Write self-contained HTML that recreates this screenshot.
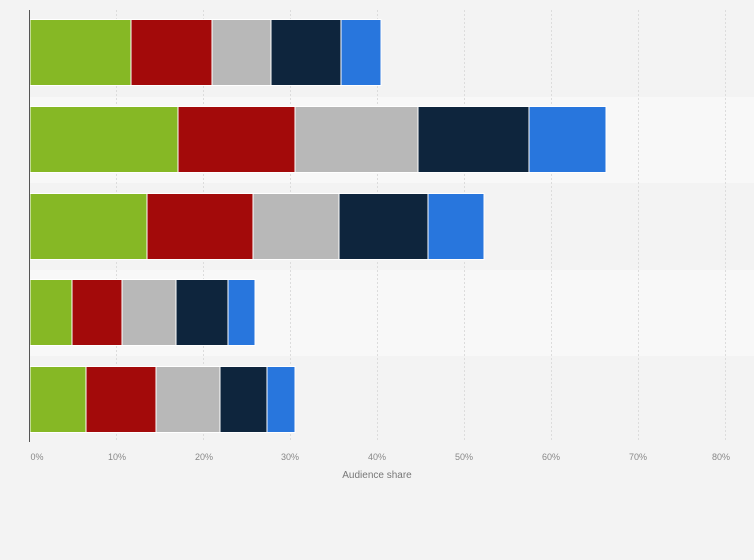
<!DOCTYPE html>
<html><head><meta charset="utf-8"><style>
html,body{margin:0;padding:0;background:#f4f4f4;}
svg{display:block;font-family:"Liberation Sans",sans-serif;}
</style></head><body>
<svg width="754" height="560" viewBox="0 0 754 560">
<rect width="754" height="560" fill="#f3f3f3"/>
<rect x="30" y="97" width="724" height="86" fill="#f8f8f8"/>
<rect x="30" y="270" width="724" height="86" fill="#f8f8f8"/>
<g stroke="#dcdcdc" stroke-dasharray="2,2" stroke-width="1">
<line x1="116.5" y1="10" x2="116.5" y2="442"/>
<line x1="203.5" y1="10" x2="203.5" y2="442"/>
<line x1="290.5" y1="10" x2="290.5" y2="442"/>
<line x1="377.5" y1="10" x2="377.5" y2="442"/>
<line x1="464.5" y1="10" x2="464.5" y2="442"/>
<line x1="551.5" y1="10" x2="551.5" y2="442"/>
<line x1="638.5" y1="10" x2="638.5" y2="442"/>
<line x1="725.5" y1="10" x2="725.5" y2="442"/>
</g>
<g stroke="#fff" stroke-width="1">
<rect x="30" y="19.5" width="101" height="66" fill="#86b825"/>
<rect x="131" y="19.5" width="81" height="66" fill="#a30a0a"/>
<rect x="212" y="19.5" width="59" height="66" fill="#b8b8b8"/>
<rect x="271" y="19.5" width="70" height="66" fill="#0e253d"/>
<rect x="341" y="19.5" width="40" height="66" fill="#2876dd"/>

<rect x="30" y="106.5" width="148" height="66" fill="#86b825"/>
<rect x="178" y="106.5" width="117" height="66" fill="#a30a0a"/>
<rect x="295" y="106.5" width="123" height="66" fill="#b8b8b8"/>
<rect x="418" y="106.5" width="111" height="66" fill="#0e253d"/>
<rect x="529" y="106.5" width="77" height="66" fill="#2876dd"/>

<rect x="30" y="193.5" width="117" height="66" fill="#86b825"/>
<rect x="147" y="193.5" width="106" height="66" fill="#a30a0a"/>
<rect x="253" y="193.5" width="86" height="66" fill="#b8b8b8"/>
<rect x="339" y="193.5" width="89" height="66" fill="#0e253d"/>
<rect x="428" y="193.5" width="56" height="66" fill="#2876dd"/>

<rect x="30" y="279.5" width="42" height="66" fill="#86b825"/>
<rect x="72" y="279.5" width="50" height="66" fill="#a30a0a"/>
<rect x="122" y="279.5" width="54" height="66" fill="#b8b8b8"/>
<rect x="176" y="279.5" width="52" height="66" fill="#0e253d"/>
<rect x="228" y="279.5" width="27" height="66" fill="#2876dd"/>

<rect x="30" y="366.5" width="56" height="66" fill="#86b825"/>
<rect x="86" y="366.5" width="70" height="66" fill="#a30a0a"/>
<rect x="156" y="366.5" width="64" height="66" fill="#b8b8b8"/>
<rect x="220" y="366.5" width="47" height="66" fill="#0e253d"/>
<rect x="267" y="366.5" width="28" height="66" fill="#2876dd"/>
</g>
<line x1="29.5" y1="10" x2="29.5" y2="442" stroke="#555" stroke-width="1"/>
<g font-size="9" fill="#888" text-anchor="middle">
<text x="37" y="460">0%</text>
<text x="117" y="460">10%</text>
<text x="204" y="460">20%</text>
<text x="290" y="460">30%</text>
<text x="377" y="460">40%</text>
<text x="464" y="460">50%</text>
<text x="551" y="460">60%</text>
<text x="638" y="460">70%</text>
<text x="721" y="460">80%</text>
<text x="377" y="478" font-size="10" fill="#777">Audience share</text>
</g>
</svg>
</body></html>
